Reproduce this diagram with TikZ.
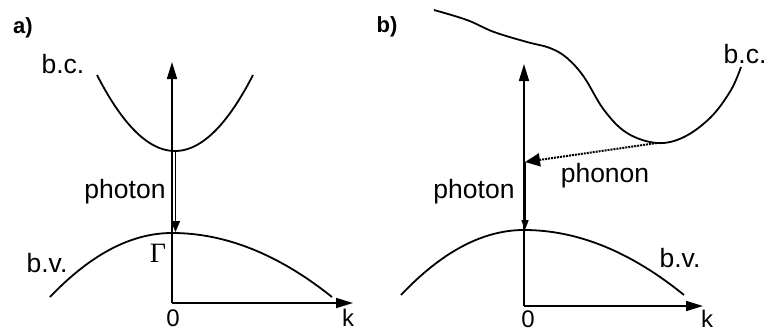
\documentclass[tikz,border=0pt]{standalone}
\usepackage{fontspec}
\setmainfont{Liberation Sans}
\newfontfamily\serifgamma{Liberation Serif}
\usetikzlibrary{arrows.meta}
\tikzset{
  lbl/.style={inner sep=0pt, font=\fontsize{26.5}{30}\selectfont},
  axlbl/.style={inner sep=0pt, font=\fontsize{24}{26}\selectfont},
  panellbl/.style={inner sep=0pt, font=\fontsize{22}{26}\selectfont\bfseries},
  axis/.style={line width=1.6pt, -{Triangle[length=17pt,width=10pt]}},
  band/.style={line width=1.8pt},
  photonarrow/.style={line width=1.5pt, -{Triangle[length=11pt,width=9pt]}},
  phononarrow/.style={line width=2pt, densely dotted, -{Triangle[length=15pt,width=13pt]}},
  photonb/.style={line width=1.6pt, -{Triangle[length=10pt,width=7pt]}},
}
\begin{document}
\begin{tikzpicture}[x=1pt,y=-1pt]
\useasboundingbox (0,0) rectangle (769,333);
% ---------- panel a ----------
\node[panellbl] (la) at (23,28) {a)};
\coordinate (Oa) at (172,303);
\coordinate (Ya) at (172,62);
\coordinate (Xa) at (353,303);
\draw[axis] (Oa) -- (Ya);
\draw[axis] (Oa) -- (Xa);
\draw[band] plot[domain=97:253, samples=60, smooth] (\x, {151-0.0125*(\x-175)^2});
\draw[band, line join=round] plot[domain=50:172, samples=50, smooth] (\x, {233+64*((172-\x)/122)^2})
  -- plot[domain=172:332, samples=60, smooth] (\x, {233+64*((\x-172)/160)^2});
\coordinate (Ca) at (175.5,151);
\coordinate (Va) at (175.5,232);
\draw[photonarrow] (Ca) -- (Va);
\node[lbl] (bca) at (63,64) {b.c.};
\node[lbl] (bva) at (47,263) {b.v.};
\node[lbl] (pha) at (125,192) {photon};
\node[inner sep=0pt, font=\fontsize{28}{32}\selectfont\serifgamma] (gam) at (158,253) {Γ};
\node[axlbl] (za) at (173,318) {0};
\node[axlbl] (ka) at (348,318) {k};
% ---------- panel b ----------
\node[panellbl] (lb) at (387,27) {b)};
\coordinate (Ob) at (524,306);
\coordinate (Yb) at (524,64);
\coordinate (Xb) at (703,306);
\draw[axis] (Ob) -- (Yb);
\draw[axis] (Ob) -- (Xb);
\draw[band] plot[smooth, tension=0.6] coordinates {(434,10) (467,20) (494,32) (527,42) (550,48) (567,58) (584,77) (604,110) (627,133) (657,143) (684,137) (711,117) (731,90) (741,67)};
\draw[band] plot[domain=401:524, samples=50, smooth] (\x, {230+65*((524-\x)/123)^2})
  -- plot[domain=524:684, samples=60, smooth] (\x, {230+65*((\x-524)/160)^2});
\coordinate (Mb) at (657,143);
\coordinate (Pb) at (525,162);
\coordinate (Vb) at (525,230);
\draw[phononarrow] (Mb) -- (Pb);
\draw[photonb] (Pb) -- (Vb);
\node[lbl] (bcb) at (745,54) {b.c.};
\node[lbl] (bvb) at (680,258) {b.v.};
\node[lbl] (phob) at (605,176) {phonon};
\node[lbl] (phb) at (474,192) {photon};
\node[axlbl] (zb) at (528,319) {0};
\node[axlbl] (kb) at (707,319) {k};
\end{tikzpicture}
\end{document}
